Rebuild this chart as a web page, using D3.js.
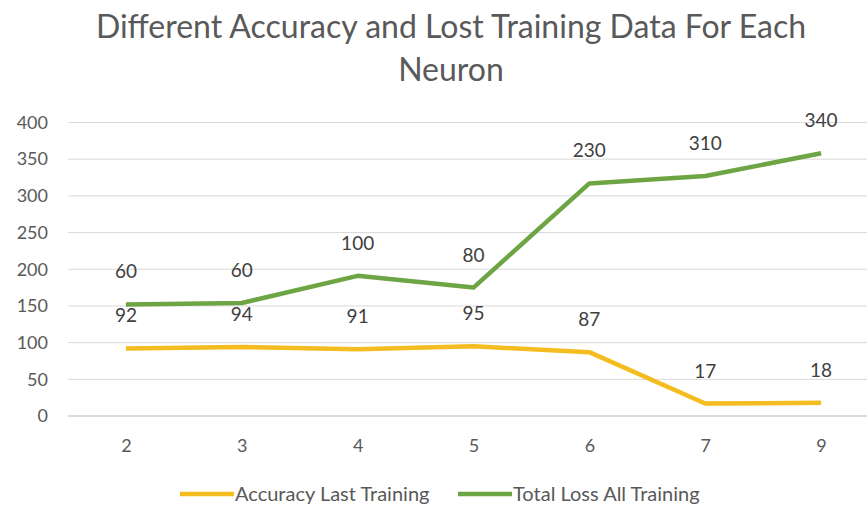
<!DOCTYPE html>
<html>
<head>
<meta charset="utf-8">
<script src="https://cdn.jsdelivr.net/npm/d3@7"></script>
<style>
  html, body { margin: 0; padding: 0; background: #fff; overflow: hidden; }
  text { font-family: Lato, "Open Sans", sans-serif; }
</style>
</head>
<body>
<svg id="chart" width="867" height="510"></svg>
<script>
const categories = ["2", "3", "4", "5", "6", "7", "9"];
const accuracy = [92, 94, 91, 95, 87, 17, 18];
const totalLoss = [60, 60, 100, 80, 230, 310, 340];
const yTicks = [0, 50, 100, 150, 200, 250, 300, 350, 400];
const seriesNames = ["Accuracy Last Training", "Total Loss All Training"];
const colors = ["#F4BC1E", "#6DA545"];

const svg = d3.select("#chart");
const x = d3.scalePoint().domain(categories).range([68, 879]).padding(0.5);
const y = d3.scaleLinear().domain([0, 400]).range([416, 122.5]);

// stacked line: second series sits on top of the first
const stackedLoss = totalLoss.map((v, i) => v + accuracy[i]);

// title
const title = svg.append("text")
  .attr("x", 450).attr("text-anchor", "middle")
  .attr("fill", "#595959").attr("font-size", 32);
title.append("tspan").attr("x", 451).attr("y", 38).text("Different Accuracy and Lost Training Data For Each");
title.append("tspan").attr("x", 451).attr("y", 81).text("Neuron");

// gridlines
svg.append("g").selectAll("line").data(yTicks.filter(d => d > 0)).join("line")
  .attr("x1", 68).attr("x2", 867)
  .attr("y1", d => y(d)).attr("y2", d => y(d))
  .attr("stroke", "#d9d9d9").attr("stroke-width", 1);
// axis baseline
svg.append("line").attr("x1", 68).attr("x2", 867).attr("y1", y(0)).attr("y2", y(0))
  .attr("stroke", "#cfcfcf").attr("stroke-width", 1.3);

// y axis labels
const yAxis = d3.axisLeft(y).tickValues(yTicks).tickSize(0).tickPadding(0);
const gy = svg.append("g").attr("transform", "translate(48,0)").call(yAxis);
gy.select(".domain").remove();
gy.selectAll("text").attr("font-size", 18).attr("fill", "#595959")
  .style("font-family", "Lato, 'Open Sans', sans-serif");

// x axis labels
const xAxis = d3.axisBottom(x).tickSize(0).tickPadding(0);
const gx = svg.append("g").attr("transform", "translate(0,439)").call(xAxis);
gx.select(".domain").remove();
gx.selectAll("text").attr("font-size", 18).attr("fill", "#595959")
  .style("font-family", "Lato, 'Open Sans', sans-serif");

// lines
const line = d3.line().x((d, i) => x(categories[i])).y(d => y(d));
[accuracy, stackedLoss].forEach((vals, s) => {
  svg.append("path").datum(vals)
    .attr("d", line)
    .attr("fill", "none")
    .attr("stroke", colors[s])
    .attr("stroke-width", 4.5)
    .attr("stroke-linejoin", "round");
});

// data labels
const labelSets = [accuracy, totalLoss];
[accuracy, stackedLoss].forEach((vals, s) => {
  svg.append("g").selectAll("text").data(vals).join("text")
    .attr("x", (d, i) => x(categories[i]))
    .attr("y", d => y(d) - 26)
    .attr("text-anchor", "middle")
    .attr("font-size", 19)
    .attr("fill", "#404040")
    .text((d, i) => labelSets[s][i]);
});

// legend
const legendItems = [
  { name: seriesNames[0], color: colors[0], x: 180 },
  { name: seriesNames[1], color: colors[1], x: 458 }
];
const lg = svg.append("g");
legendItems.forEach(it => {
  lg.append("line").attr("x1", it.x).attr("x2", it.x + 54)
    .attr("y1", 494).attr("y2", 494)
    .attr("stroke", it.color).attr("stroke-width", 4.5);
  lg.append("text").attr("x", it.x + 55).attr("y", 501)
    .attr("font-size", 20).attr("fill", "#595959").text(it.name);
});
</script>
</body>
</html>
